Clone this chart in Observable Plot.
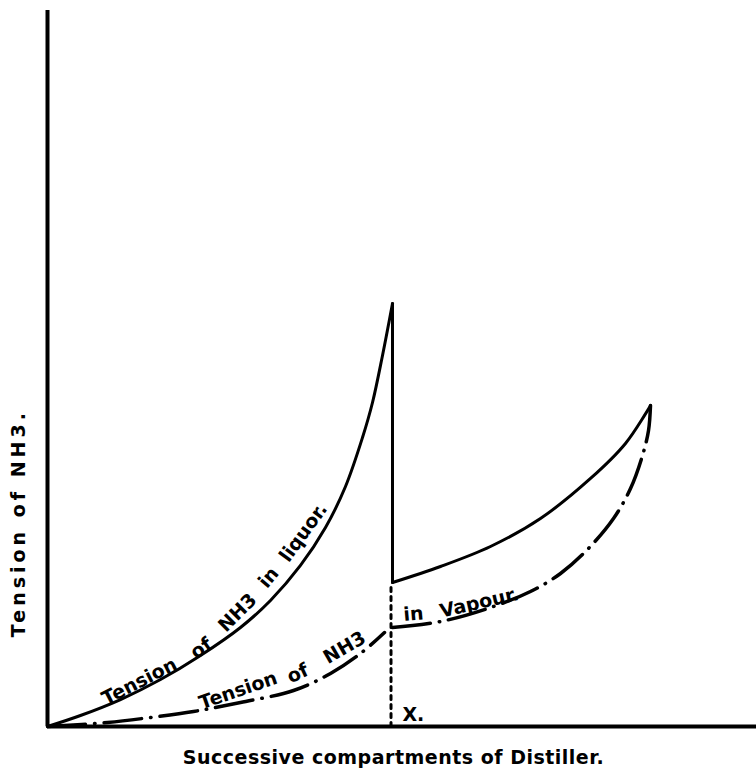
<!DOCTYPE html>
<html>
<head>
<meta charset="utf-8">
<script src="https://cdn.jsdelivr.net/npm/d3@7"></script>
<script src="https://cdn.jsdelivr.net/npm/@observablehq/plot@0.6"></script>
<style>
  html, body { margin: 0; padding: 0; background: #fff; }
  #chart svg { display: block; }
</style>
</head>
<body>
<div id="chart"></div>
<script>
// Tension of NH3 in liquor (solid), before point X
const liquorLeftX = [0, 4.65, 10.30, 15.94, 21.58, 27.22, 31.45, 35.68, 39.21, 42.03, 44.43, 45.84, 47.25, 48.66];
const liquorLeftY = [0, 1.54, 3.77, 6.56, 9.92, 13.83, 17.60, 22.49, 27.79, 33.52, 40.36, 45.25, 51.82, 59.08];
// sudden drop at X
const dropX = [48.66, 48.66];
const dropY = [59.08, 20.11];
// Tension of NH3 in liquor (solid), after point X
const liquorRightX = [48.66, 55.43, 62.48, 69.53, 76.59, 81.52, 85.05];
const liquorRightY = [20.11, 22.35, 25.14, 29.05, 34.64, 39.53, 44.83];
// Tension of NH3 in vapour (dash-dot), before and after X
const vapourLeftX = [0, 8.46, 14.53, 20.59, 27.22, 34.70, 39.92, 44.15, 47.53];
const vapourLeftY = [0, 0.56, 1.26, 2.09, 3.35, 5.03, 7.40, 10.20, 13.13];
const vapourRightX = [48.66, 55.43, 62.48, 68.12, 72.36, 76.16, 79.83, 82.23, 83.92, 84.77, 85.05];
const vapourRightY = [13.83, 14.66, 16.62, 18.85, 21.37, 24.72, 29.05, 33.24, 37.85, 41.34, 44.83];
// dotted line marking point X
const markX = [48.45, 48.45];
const markY = [0, 20.11];

// curve labels (word, x, y, angle)
const liquorWords = ["Tension", "of", "NH3", "in", "liquor."];
const liquorWordX = [12.98, 21.7, 26.8, 31.2, 36.1];
const liquorWordY = [6.28, 10.9, 15.9, 20.8, 27.1];
const liquorWordA = [-27, -35, -45, -50, -54];
const vapourWords = ["Tension", "of", "NH3", "in", "Vapour."];
const vapourWordX = [26.9, 35.3, 41.9, 51.6, 60.9];
const vapourWordY = [5.03, 7.4, 11.0, 15.7, 17.3];
const vapourWordA = [-19, -25, -30, -5, -13];

const xLabel = "Successive compartments of Distiller.";
const yLabel = "Tension of NH3.";
const pointLabel = "X.";

const zip = (xs, ys, name) => xs.map((x, i) => ({x, y: ys[i], s: name}));
const solid = [
  ...zip(liquorLeftX, liquorLeftY, "a"),
  ...zip(liquorRightX, liquorRightY, "b")
];
const drop = zip(dropX, dropY, "d");
const vapour = [
  ...zip(vapourLeftX, vapourLeftY, "a"),
  ...zip(vapourRightX, vapourRightY, "b")
];
const mark = zip(markX, markY, "m");
const words = [
  ...liquorWords.map((w, i) => ({w, x: liquorWordX[i], y: liquorWordY[i], a: liquorWordA[i]})),
  ...vapourWords.map((w, i) => ({w, x: vapourWordX[i], y: vapourWordY[i], a: vapourWordA[i]}))
];

const font = "DejaVu Sans";
const chart = Plot.plot({
  width: 756,
  height: 772,
  marginLeft: 47,
  marginRight: 0,
  marginTop: 10,
  marginBottom: 46,
  style: {fontFamily: font, background: "#fff"},
  x: {domain: [0, 100], axis: null},
  y: {domain: [0, 100], axis: null},
  marks: [
    Plot.ruleX([0], {y1: 0, y2: 100, stroke: "#000", strokeWidth: 4}),
    Plot.ruleY([0], {x1: 0, x2: 100, stroke: "#000", strokeWidth: 4}),
    Plot.line(mark, {x: "x", y: "y", stroke: "#000", strokeWidth: 3, strokeDasharray: "4,5"}),
    Plot.line(solid, {x: "x", y: "y", z: "s", curve: "catmull-rom", stroke: "#000", strokeWidth: 3, strokeLinecap: "round"}),
    Plot.line(drop, {x: "x", y: "y", stroke: "#000", strokeWidth: 3, strokeLinecap: "round"}),
    Plot.line(vapour, {x: "x", y: "y", z: "s", curve: "catmull-rom", stroke: "#000", strokeWidth: 3.5, strokeLinecap: "round", strokeDasharray: "38,9,0.5,9"}),
    Plot.text(words, {x: "x", y: "y", text: "w", rotate: "a", fontSize: 19, fontWeight: "bold", fill: "#000"}),
    Plot.text([pointLabel], {x: [51.6], y: [1.6], text: d => d, fontSize: 19, fontWeight: "bold", fill: "#000"}),
    Plot.text([xLabel], {x: [48.8], y: [-4.33], text: d => d, fontSize: 19, fontWeight: "bold", fill: "#000"}),
    Plot.text([yLabel], {x: [-4.09], y: [28.4], text: d => d, rotate: -90, fontSize: 19, fontWeight: "bold", fill: "#000"})
  ]
});
d3.select(chart).selectAll("text")
  .filter(function () { return this.textContent === yLabel; })
  .style("letter-spacing", "4px");
d3.select(chart).selectAll("text")
  .filter(function () { return this.textContent === xLabel; })
  .style("letter-spacing", "0.5px");
document.getElementById("chart").appendChild(chart);
</script>
</body>
</html>
